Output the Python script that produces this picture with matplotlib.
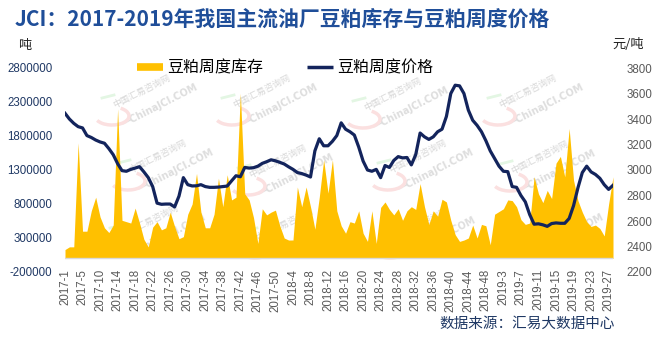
import matplotlib
matplotlib.use("Agg")
import matplotlib.pyplot as plt
from matplotlib.lines import Line2D
from matplotlib.patches import Arc
import numpy as np

plt.rcParams['font.family'] = ['Noto Sans CJK SC', 'DejaVu Sans']

# week categories (a few holiday weeks are not reported)
weeks = ([f"2017-{w}" for w in list(range(1, 6)) + list(range(7, 53))]
         + [f"2018-{w}" for w in range(3, 52)]
         + [f"2019-{w}" for w in range(3, 29)])

# soybean meal stocks at major crushers, tonnes
stock = [
    130000, 170000, 170000, 1700000, 400000, 400000, 700000, 900000, 610000, 450000,
    380000, 490000, 2200000, 560000, 540000, 520000, 740000, 520000, 280000, 170000,
    460000, 540000, 420000, 450000, 680000, 470000, 290000, 320000, 650000, 800000,
    1250000, 680000, 450000, 450000, 650000, 1180000, 760000, 1230000, 860000, 900000,
    2430000, 950000, 860000, 600000, 220000, 730000, 640000, 680000, 710000, 480000,
    300000, 270000, 270000, 1050000, 760000, 1050000, 760000, 430000, 900000, 1450000,
    960000, 1450000, 700000, 480000, 370000, 540000, 520000, 700000, 370000, 250000,
    700000, 220000, 750000, 830000, 720000, 640000, 730000, 560000, 700000, 760000,
    720000, 1100000, 760000, 500000, 700000, 620000, 870000, 830000, 560000, 350000,
    250000, 270000, 300000, 490000, 300000, 500000, 480000, 200000, 650000, 690000,
    730000, 860000, 850000, 760000, 570000, 500000, 520000, 1200000, 950000, 820000,
    1000000, 880000, 1400000, 1500000, 1200000, 1910000, 1150000, 850000, 680000, 540000,
    470000, 490000, 440000, 330000, 800000, 1200000,
]

# weekly soybean meal price, yuan/tonne
price = [
    3445, 3400, 3366, 3340, 3330, 3270, 3255, 3235, 3220, 3210,
    3168, 3120, 3050, 2995, 2990, 3005, 3015, 3026, 2985, 2940,
    2870, 2740, 2731, 2733, 2733, 2710, 2795, 2940, 2885, 2875,
    2876, 2885, 2870, 2864, 2864, 2866, 2870, 2874, 2915, 2955,
    2947, 3020, 3015, 3018, 3030, 3052, 3065, 3080, 3072, 3060,
    3047, 3025, 3005, 2980, 2972, 2960, 2945, 3150, 3245, 3190,
    3190, 3225, 3270, 3370, 3320, 3300, 3274, 3180, 3070, 3000,
    2990, 3005, 2940, 3035, 3020, 3075, 3105, 3095, 3098, 3040,
    3120, 3290, 3260, 3240, 3260, 3300, 3320, 3420, 3600, 3665,
    3660, 3600, 3470, 3390, 3350, 3300, 3230, 3150, 3090, 3030,
    2990, 2987, 2870, 2864, 2800, 2750, 2650, 2575, 2578, 2570,
    2558, 2580, 2585, 2582, 2582, 2620, 2720, 2860, 2980, 3030,
    2985, 2965, 2935, 2885, 2848, 2880,
]

left_ticks = [-200000, 300000, 800000, 1300000, 1800000, 2300000, 2800000]
right_ticks = [2200, 2400, 2600, 2800, 3000, 3200, 3400, 3600, 3800]

gold = '#FFC000'
navy = '#13245C'
gray = '#595959'
W, H = 670, 346

fig = plt.figure(figsize=(W / 100, H / 100), dpi=100)
ax = fig.add_axes([65 / W, 74 / H, 548 / W, 204 / H])
ax2 = ax.twinx()

xs = np.arange(len(weeks))

# faint site watermarks behind the data
wm_centres = [(142, 92), (262, 92), (393, 95), (528, 92),
              (158, 157), (278, 162), (418, 157), (540, 158),
              (150, 222), (285, 225), (420, 225), (548, 222)]
for cx, cy in wm_centres:
    fx, fy = cx / W, 1 - cy / H
    ax.text(fx, fy, "中国汇易咨询网", transform=fig.transFigure, rotation=27,
            ha='center', va='center', fontsize=6.5, color='#D8D8D8', zorder=0.2)
    ax.text(fx + 18 / W, fy - 13 / H, "—ChinaJCI.COM", transform=fig.transFigure,
            rotation=27, ha='center', va='center', fontsize=7, fontweight='bold',
            family='DejaVu Sans', color='#DEDEDE', zorder=0.2)
    arc = Arc((fx - 30 / W, fy - 24 / H), 34 / W, 18 / H, theta1=-150, theta2=60,
              transform=fig.transFigure, color='#FBE0E0', lw=2.5, zorder=0.2)
    ax.add_patch(arc)
    ax.add_line(Line2D([fx - 40 / W, fx - 28 / W], [fy - 6 / H, fy - 3 / H],
                       transform=fig.transFigure, color='#E3F6E3', lw=2, zorder=0.2))

ax.fill_between(xs, 0, stock, color=gold, lw=0, zorder=1)
ax.axhline(0, color='#D9D9D9', lw=1, zorder=1.5)
ax2.plot(xs, price, color=navy, lw=2.3, solid_joinstyle='round', zorder=3)

ax.set_xlim(0, len(weeks) - 1)
ax.set_ylim(-200000, 2800000)
ax2.set_ylim(2200, 3800)

ax.set_yticks(left_ticks)
ax.set_yticklabels([str(v) for v in left_ticks], family='Liberation Sans',
                   fontsize=8.3, color='#1F3864')
ax2.set_yticks(right_ticks)
ax2.set_yticklabels([str(v) for v in right_ticks], family='Liberation Sans',
                    fontsize=8.3, color=gray)
ax.set_xticks(xs[::4])
ax.set_xticklabels(weeks[::4], rotation=90, family='Liberation Sans',
                   fontsize=8.3, color=gray)
ax.tick_params(axis='x', length=0, pad=-2)
ax.tick_params(axis='y', length=0, pad=9)
ax2.tick_params(axis='y', length=0, pad=10)

for a in (ax, ax2):
    for s in a.spines.values():
        s.set_visible(False)

fig.text(15 / W, 1 - 19 / H, "JCI：2017-2019年我国主流油厂豆粕库存与豆粕周度价格",
         ha='left', va='center', fontsize=15, fontweight='bold', color='#1F4E99')
fig.text(25 / W, 1 - 45 / H, "吨", ha='center', va='center', fontsize=9.5, color='#222222')
fig.text(628 / W, 1 - 45 / H, "元/吨", ha='center', va='center', fontsize=9.5, color='#222222')

handles = [Line2D([], [], color=gold, lw=5.5, solid_capstyle='butt'),
           Line2D([], [], color=navy, lw=2.5, solid_capstyle='butt')]
fig.legend(handles, ["豆粕周度库存", "豆粕周度价格"], loc='center',
           bbox_to_anchor=(285 / W, 1 - 68 / H), ncol=2, frameon=False,
           fontsize=11.5, handlelength=1.6, handletextpad=0.25,
           columnspacing=2.8, borderpad=0)

fig.text(615 / W, 1 - 324 / H, "数据来源：汇易大数据中心", ha='right', va='center',
         fontsize=10.5, color='#1F3864')

fig.savefig("out.png", dpi=100)
